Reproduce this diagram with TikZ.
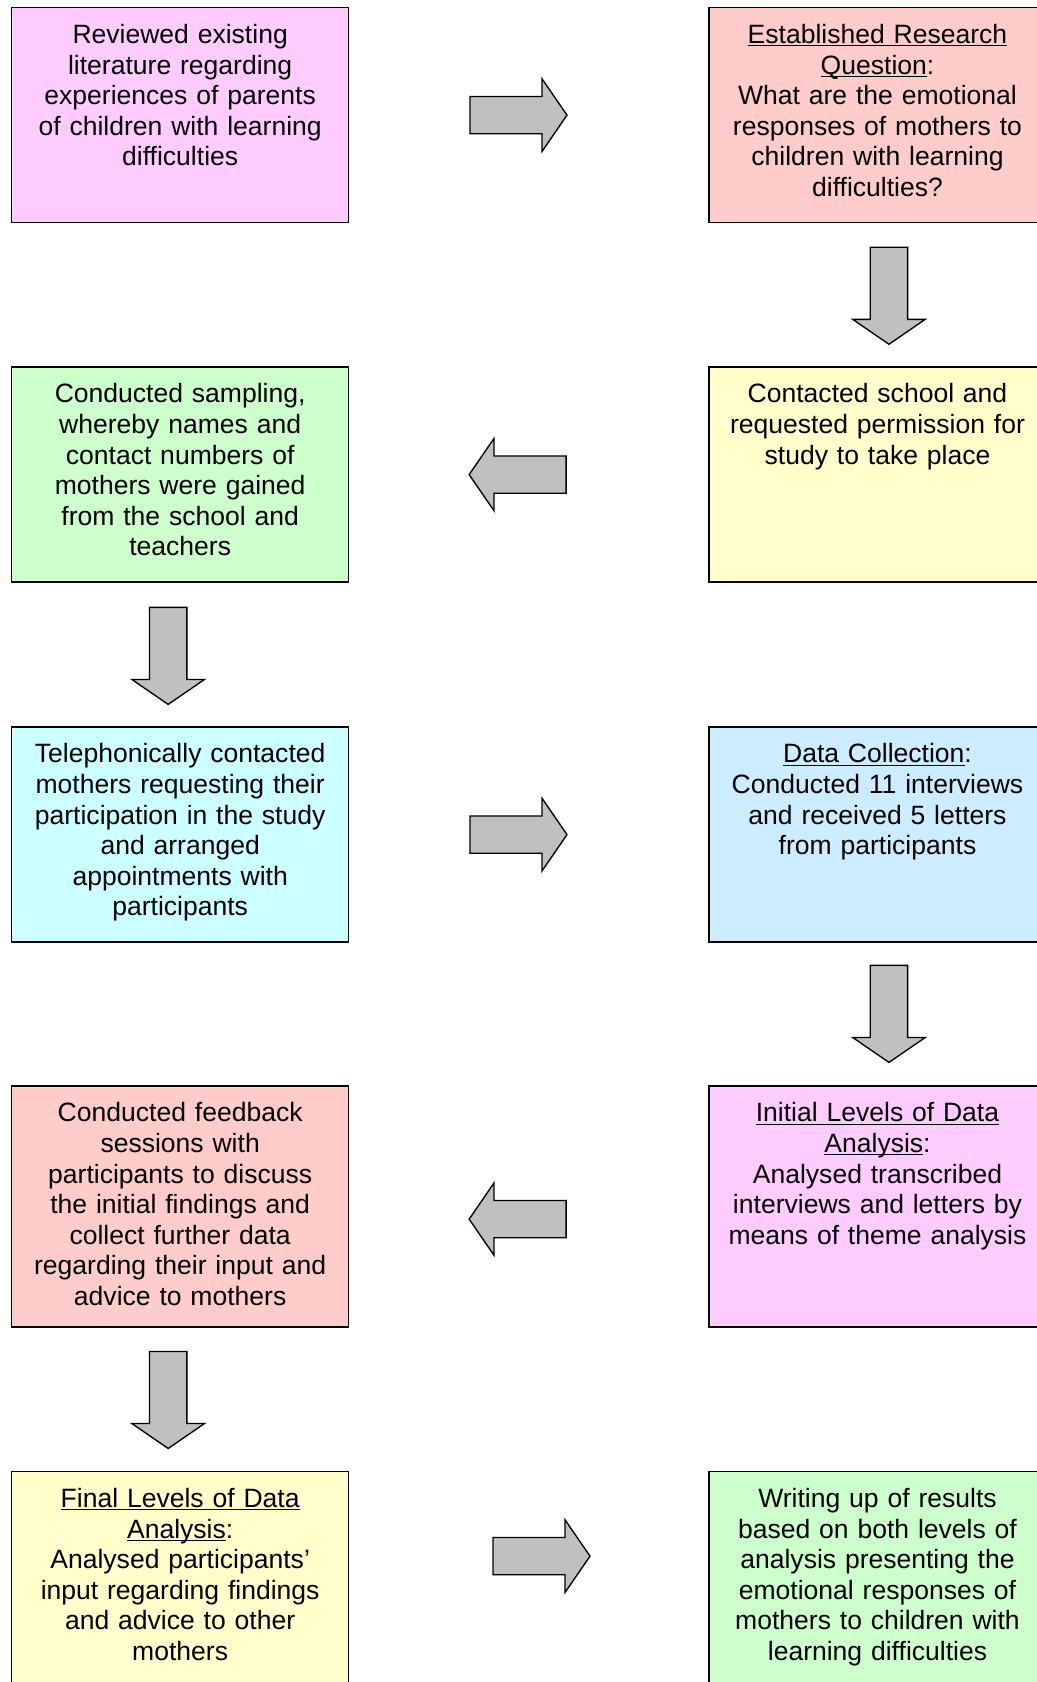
\documentclass[tikz,border=0pt]{standalone}
\usepackage{fontspec}
\setmainfont{Liberation Sans}
\usepackage{xcolor}
\usetikzlibrary{arrows.meta,positioning,shapes.arrows,calc}

\definecolor{stpink}{HTML}{FFCCFF}
\definecolor{stsalmon}{HTML}{FFCCCC}
\definecolor{stgreen}{HTML}{CCFFCC}
\definecolor{styellow}{HTML}{FFFFCC}
\definecolor{stcyan}{HTML}{CCFFFF}
\definecolor{stblue}{HTML}{CCECFF}
\definecolor{arrowgray}{HTML}{C0C0C0}

\newcommand{\headul}[1]{\leavevmode\setbox0\hbox{#1}\rlap{\rule[-2.2pt]{\wd0}{0.8pt}}#1}

\begin{document}
\begin{tikzpicture}[
  node distance=107.4pt and 269.25pt,
  every node/.style={font=\fontsize{19.9pt}{22.95pt}\selectfont},
  stage/.style={draw, line width=1pt, fill=#1, align=center, text width=252.75pt,
    inner xsep=0pt, inner ysep=0pt, text height=26.8pt, text depth=134.4pt},
  tall/.style={text depth=154pt},
  blockarrow/.style={single arrow, draw, line width=1pt, fill=arrowgray,
    inner sep=13.5pt, minimum height=72.75pt, minimum width=53.4pt,
    single arrow head extend=13.2pt, single arrow tip angle=111},
  rarrow/.style={blockarrow, anchor=tail},
  larrow/.style={blockarrow, shape border rotate=180, anchor=tip},
  darrow/.style={blockarrow, shape border rotate=270, anchor=tail}
]
  \useasboundingbox (-8.25pt,5.25pt) rectangle ++(777pt,-1261.5pt);

  \node[stage=stpink, anchor=north west] (lit) at (0,0) {Reviewed existing\\literature regarding\\experiences of parents\\of children with learning\\difficulties};
  \node[stage=stsalmon, right=of lit] (rq) {\headul{Established Research}\\\headul{Question}:\\What are the emotional\\responses of mothers to\\children with learning\\difficulties?};
  \node[stage=styellow, below=of rq] (contact) {Contacted school and\\requested permission for\\study to take place};
  \node[stage=stgreen, left=of contact] (samp) {Conducted sampling,\\whereby names and\\contact numbers of\\mothers were gained\\from the school and\\teachers};
  \node[stage=stcyan, below=107.8pt of samp] (tel) {Telephonically contacted\\mothers requesting their\\participation in the study\\and arranged\\appointments with\\participants};
  \node[stage=stblue, right=of tel] (datac) {\headul{Data Collection}:\\Conducted 11 interviews\\and received 5 letters\\from participants};
  \node[stage=stpink, tall, below=107pt of datac] (init) {\headul{Initial Levels of Data}\\\headul{Analysis}:\\Analysed transcribed\\interviews and letters by\\means of theme analysis};
  \node[stage=stsalmon, tall, left=of init] (feed) {Conducted feedback\\sessions with\\participants to discuss\\the initial findings and\\collect further data\\regarding their input and\\advice to mothers};
  \node[stage=styellow, tall, below=107.5pt of feed] (final) {\headul{Final Levels of Data}\\\headul{Analysis}:\\Analysed participants'\\input regarding findings\\and advice to other\\mothers};
  \node[stage=stgreen, tall, right=of final] (writing) {Writing up of results\\based on both levels of\\analysis presenting the\\emotional responses of\\mothers to children with\\learning difficulties};

  \node[rarrow] (a1) at ($(lit.east)+(90pt,0)$) {};
  \node[darrow] (a2) at ($(rq.south)+(8.6pt,-17.5pt)$) {};
  \node[larrow] (a3) at ($(samp.east)+(89.25pt,0)$) {};
  \node[darrow] (a4) at ($(samp.south)+(-9pt,-18pt)$) {};
  \node[rarrow] (a5) at ($(tel.east)+(90pt,0)$) {};
  \node[darrow] (a6) at ($(datac.south)+(8.6pt,-16.5pt)$) {};
  \node[larrow] (a7) at ($(feed.east)+(89.25pt,-9.4pt)$) {};
  \node[darrow] (a8) at ($(feed.south)+(-9pt,-17.25pt)$) {};
  \node[rarrow] (a9) at ($(final.north east)+(107.25pt,-63.75pt)$) {};
\end{tikzpicture}
\end{document}
